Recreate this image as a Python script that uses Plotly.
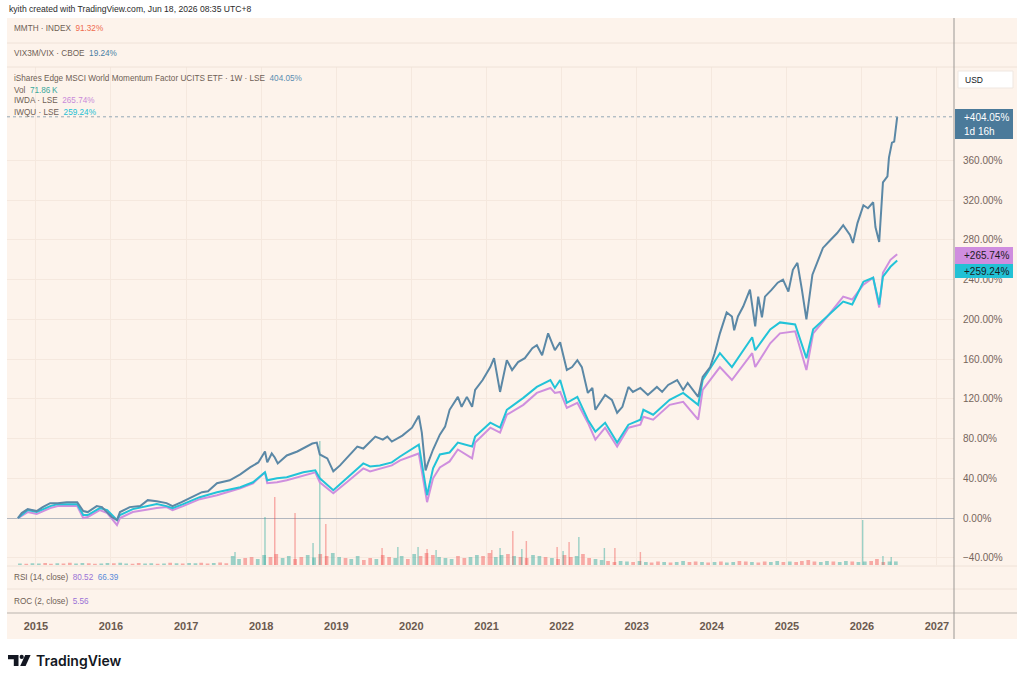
import math
from datetime import datetime, timedelta
import plotly.graph_objects as go

W, H = 1024, 682

# ---------------- data (decimal year, % change) ----------------
mmtm = [(2014.76, 0), (2014.81, 5), (2014.89, 9), (2015.01, 7), (2015.09, 11), (2015.19, 15),
        (2015.29, 15), (2015.41, 16), (2015.55, 16), (2015.63, 7), (2015.69, 6), (2015.81, 12),
        (2015.88, 11), (2016.01, 1), (2016.08, -2), (2016.12, 6), (2016.25, 11), (2016.39, 12),
        (2016.49, 18), (2016.61, 17), (2016.74, 15), (2016.82, 12), (2016.94, 16), (2017.08, 21),
        (2017.21, 26), (2017.29, 27), (2017.41, 35), (2017.58, 38), (2017.72, 44), (2017.85, 51),
        (2017.96, 56), (2018.05, 67), (2018.08, 56), (2018.14, 65), (2018.18, 61), (2018.22, 55),
        (2018.34, 63), (2018.48, 67), (2018.56, 70), (2018.68, 75), (2018.74, 76), (2018.78, 64),
        (2018.88, 60), (2018.96, 47), (2019.05, 53), (2019.16, 62), (2019.28, 72), (2019.36, 70),
        (2019.52, 82), (2019.62, 79), (2019.68, 82), (2019.74, 77), (2019.88, 83), (2020.01, 91),
        (2020.10, 103), (2020.14, 86), (2020.19, 48), (2020.22, 55), (2020.29, 69), (2020.38, 84),
        (2020.45, 92), (2020.51, 109), (2020.62, 122), (2020.67, 112), (2020.74, 122), (2020.81, 112),
        (2020.85, 129), (2020.95, 139), (2021.05, 152), (2021.10, 161), (2021.18, 127), (2021.27, 159),
        (2021.34, 149), (2021.42, 157), (2021.51, 161), (2021.61, 171), (2021.67, 174), (2021.74, 164),
        (2021.82, 186), (2021.91, 169), (2021.98, 177), (2022.07, 149), (2022.14, 152), (2022.21, 159),
        (2022.27, 152), (2022.35, 126), (2022.41, 131), (2022.45, 109), (2022.51, 116), (2022.58, 124),
        (2022.67, 119), (2022.74, 106), (2022.81, 112), (2022.89, 132), (2022.95, 127), (2023.05, 131),
        (2023.15, 124), (2023.27, 132), (2023.34, 127), (2023.42, 134), (2023.54, 139), (2023.62, 129),
        (2023.68, 136), (2023.75, 129), (2023.82, 122), (2023.88, 142), (2023.98, 152), (2024.04, 166),
        (2024.11, 186), (2024.20, 207), (2024.27, 203), (2024.30, 189), (2024.35, 203), (2024.42, 213),
        (2024.51, 230), (2024.58, 193), (2024.62, 223), (2024.67, 202), (2024.71, 223), (2024.80, 230),
        (2024.88, 237), (2024.95, 240), (2025.02, 228), (2025.08, 250), (2025.14, 257), (2025.20, 230),
        (2025.26, 200), (2025.34, 245), (2025.40, 257), (2025.48, 272), (2025.58, 280), (2025.67, 287),
        (2025.75, 295), (2025.84, 285), (2025.88, 277), (2025.94, 297), (2026.02, 315), (2026.08, 312),
        (2026.15, 318), (2026.18, 293), (2026.23, 278), (2026.28, 338), (2026.34, 344), (2026.36, 363),
        (2026.40, 378), (2026.43, 379), (2026.47, 404.05)]

iwqu = [(2014.76, 0), (2014.89, 8), (2015.01, 6), (2015.19, 12), (2015.29, 14), (2015.41, 14),
        (2015.55, 14), (2015.63, 3), (2015.69, 3), (2015.85, 10), (2015.95, 8), (2016.08, -2),
        (2016.12, 3), (2016.29, 9), (2016.52, 13), (2016.61, 14), (2016.74, 12), (2016.82, 10),
        (2016.96, 14), (2017.18, 21), (2017.41, 26), (2017.58, 29), (2017.72, 31), (2017.89, 36),
        (2018.05, 46), (2018.08, 38), (2018.21, 40), (2018.34, 41), (2018.56, 46), (2018.72, 48),
        (2018.78, 40), (2018.96, 28), (2019.14, 40), (2019.36, 55), (2019.45, 52), (2019.58, 53),
        (2019.74, 56), (2019.85, 62), (2020.10, 74), (2020.21, 23), (2020.29, 50), (2020.38, 64),
        (2020.51, 66), (2020.62, 76), (2020.81, 72), (2020.85, 82), (2021.05, 96), (2021.18, 91),
        (2021.27, 109), (2021.49, 121), (2021.67, 132), (2021.85, 139), (2021.91, 131), (2021.98, 139),
        (2022.07, 116), (2022.21, 122), (2022.35, 99), (2022.45, 87), (2022.58, 96), (2022.74, 76),
        (2022.89, 94), (2023.05, 99), (2023.09, 109), (2023.22, 104), (2023.44, 119), (2023.62, 126),
        (2023.82, 114), (2023.88, 139), (2024.11, 166), (2024.27, 152), (2024.54, 182), (2024.58, 169),
        (2024.78, 190), (2024.91, 197), (2025.11, 195), (2025.26, 161), (2025.35, 190), (2025.54, 203),
        (2025.75, 218), (2025.87, 215), (2026.02, 238), (2026.15, 242), (2026.23, 215), (2026.28, 243),
        (2026.38, 253), (2026.47, 259.24)]

iwda = [(2014.76, 0), (2014.89, 6), (2015.01, 4), (2015.19, 10), (2015.29, 12), (2015.41, 12),
        (2015.55, 12), (2015.63, 0), (2015.69, 1), (2015.85, 8), (2015.95, 5), (2016.08, -7),
        (2016.12, 0), (2016.29, 6), (2016.52, 9), (2016.61, 10), (2016.74, 11), (2016.82, 8),
        (2016.96, 12), (2017.18, 19), (2017.41, 23), (2017.58, 27), (2017.72, 30), (2017.89, 35),
        (2018.05, 46), (2018.08, 35), (2018.21, 36), (2018.34, 38), (2018.56, 43), (2018.72, 46),
        (2018.78, 36), (2018.96, 25), (2019.14, 36), (2019.36, 50), (2019.45, 47), (2019.58, 50),
        (2019.74, 53), (2019.85, 58), (2020.10, 65), (2020.21, 16), (2020.29, 40), (2020.38, 51),
        (2020.51, 57), (2020.62, 69), (2020.81, 60), (2020.85, 76), (2021.05, 91), (2021.18, 86),
        (2021.27, 104), (2021.49, 114), (2021.67, 126), (2021.85, 131), (2021.91, 126), (2021.98, 127),
        (2022.07, 111), (2022.21, 116), (2022.35, 96), (2022.45, 79), (2022.58, 91), (2022.74, 72),
        (2022.89, 91), (2023.05, 94), (2023.09, 102), (2023.22, 99), (2023.44, 114), (2023.62, 117),
        (2023.82, 99), (2023.88, 129), (2024.11, 152), (2024.27, 139), (2024.54, 166), (2024.58, 152),
        (2024.78, 176), (2024.91, 186), (2025.11, 188), (2025.26, 149), (2025.35, 186), (2025.54, 203),
        (2025.75, 223), (2025.87, 220), (2026.02, 235), (2026.15, 242), (2026.23, 212), (2026.28, 247),
        (2026.38, 260), (2026.47, 265.74)]

# monthly volume (thousands), Oct 2014 .. Jun 2026
vol_k = [30, 25, 35,
         30, 40, 25, 35, 30, 45, 30, 40, 35, 25, 30, 40,
         35, 45, 30, 25, 40, 30, 35, 25, 30, 45, 35, 30,
         40, 35, 45, 30, 40, 50, 35, 180, 120, 140, 160, 120,
         200, 160, 220, 140, 180, 120, 160, 200, 150, 220, 180, 240,
         160, 140, 120, 180, 100, 140, 120, 200, 160, 140, 180, 120,
         220, 180, 240, 200, 160, 140, 120, 180, 140, 160, 200, 180,
         240, 160, 200, 220, 180, 160, 140, 200, 180, 160, 140, 120,
         200, 160, 180, 220, 140, 120, 100, 80, 60, 80, 70, 60,
         80, 60, 50, 70, 60, 50, 60, 80, 60, 70, 60, 50,
         60, 70, 50, 60, 80, 70, 60, 50, 70, 60, 80, 60,
         70, 60, 80, 100, 70, 60, 80, 70, 60, 80, 70, 60,
         70, 80, 120, 60, 70, 71.86]
vol_dir = ("udu" "uddudduudduu" "duudduududud" "uuddudduuddu" "udduudduuddu" "uduuddudduud"
           "uddduuudduud" "duududduudud" "ddudduudduud" "uudduduuddud" "uduuddudduud"
           "udddduuduudu" "uddduu")
# notable volume spikes (decimal year, thousands, direction)
vol_spikes = [(2017.65, 260, "u"), (2018.05, 960, "u"), (2018.18, 1360, "d"), (2018.45, 1040, "d"),
              (2018.69, 440, "u"), (2018.78, 2480, "u"), (2018.86, 820, "d"), (2019.61, 340, "d"),
              (2019.82, 360, "u"), (2020.09, 360, "u"), (2020.21, 320, "d"), (2020.33, 300, "u"),
              (2021.07, 300, "d"), (2021.18, 340, "u"), (2021.35, 680, "d"), (2021.47, 320, "u"),
              (2021.53, 480, "d"), (2021.94, 360, "d"), (2022.02, 280, "u"), (2022.10, 460, "d"),
              (2022.23, 560, "u"), (2022.57, 340, "u"), (2022.71, 340, "d"), (2023.05, 260, "d"),
              (2026.01, 900, "u"), (2026.28, 180, "u"), (2026.39, 160, "u")]

legend_other = {"MMTH · INDEX": "91.32%", "VIX3M/VIX · CBOE": "19.24%"}
rsi_vals = ("80.52", "66.39")
roc_val = "5.56"
y_ticks = list(range(-40, 361, 40))

# ---------------- helpers ----------------
def dy(t):
    y = int(math.floor(t))
    return datetime(y, 1, 1) + timedelta(days=(t - y) * 365.25)

def px(x):
    return x / W

def py(y):
    return 1 - y / H

C_MMTM = "#5b88a6"
C_IWDA = "#cf8fde"
C_IWQU = "#22c3d8"
C_UP = "rgba(38,166,154,0.45)"
C_DN = "rgba(239,83,80,0.45)"
BG = "#fdf3eb"
GRID = "#f5e8de"
TXT = "#6f5f55"
FONT = "Liberation Sans"

fig = go.Figure()

# volume (base axis, drawn underneath)
vdates = [datetime(2014 + (9 + i) // 12, (9 + i) % 12 + 1, 15) for i in range(len(vol_k))]
fig.add_trace(go.Bar(x=vdates, y=vol_k, width=18 * 86400000,
                     marker=dict(color=[C_UP if d == "u" else C_DN for d in vol_dir], line=dict(width=0)),
                     xaxis="x", yaxis="y", hoverinfo="skip"))
fig.add_trace(go.Bar(x=[dy(s[0]) for s in vol_spikes], y=[s[1] for s in vol_spikes], width=7 * 86400000,
                     marker=dict(color=[C_UP if s[2] == "u" else C_DN for s in vol_spikes], line=dict(width=0)),
                     xaxis="x", yaxis="y", hoverinfo="skip"))

for series, col in ((iwda, C_IWDA), (iwqu, C_IWQU), (mmtm, C_MMTM)):
    fig.add_trace(go.Scatter(x=[dy(p[0]) for p in series], y=[p[1] for p in series], mode="lines",
                             line=dict(color=col, width=2), xaxis="x", yaxis="y2", hoverinfo="skip"))

fig.update_layout(barmode="overlay")

shapes = []
# chart background
shapes.append(dict(type="rect", xref="paper", yref="paper", x0=px(7), x1=px(1017), y0=py(639), y1=py(18),
                   fillcolor=BG, line=dict(width=0), layer="below"))
# pane separators
for yy in (43, 67, 566, 589):
    shapes.append(dict(type="line", xref="paper", yref="paper", x0=px(7), x1=px(1017), y0=py(yy), y1=py(yy),
                       line=dict(color="#efe2d8", width=1), layer="above"))
shapes.append(dict(type="line", xref="paper", yref="paper", x0=px(7), x1=px(1017), y0=py(613), y1=py(613),
                   line=dict(color="#b9b3ae", width=1.2), layer="above"))
shapes.append(dict(type="line", xref="paper", yref="paper", x0=px(954), x1=px(954), y0=py(639), y1=py(18),
                   line=dict(color="#9a9794", width=1), layer="above"))
# last-price dotted line
shapes.append(dict(type="line", xref="paper", yref="y2", x0=px(7), x1=px(954), y0=mmtm[-1][1], y1=mmtm[-1][1],
                   line=dict(color="#93a7b6", width=1, dash="dot"), layer="above"))
# price badges
shapes.append(dict(type="rect", xref="paper", yref="paper", x0=px(958), x1=px(1013), y0=py(88), y1=py(71),
                   fillcolor="white", line=dict(color="#efe7e1", width=1), layer="above"))
shapes.append(dict(type="rect", xref="paper", yref="paper", x0=px(955), x1=px(1013), y0=py(139), y1=py(109),
                   fillcolor="#4b7a9a", line=dict(width=0), layer="above"))
shapes.append(dict(type="rect", xref="paper", yref="paper", x0=px(955), x1=px(1013), y0=py(264), y1=py(247),
                   fillcolor="#cf8ddf", line=dict(width=0), layer="above"))
shapes.append(dict(type="rect", xref="paper", yref="paper", x0=px(955), x1=px(1013), y0=py(278), y1=py(264),
                   fillcolor="#22c1d5", line=dict(width=0), layer="above"))
# TradingView logo icon
def path(pts):
    return "M" + " L".join(f"{px(a):.5f},{py(b):.5f}" for a, b in pts) + " Z"
shapes.append(dict(type="path", xref="paper", yref="paper",
                   path=path([(8, 655), (18.5, 655), (18.5, 666), (13.8, 666), (13.8, 659.2), (8, 659.2)]),
                   fillcolor="#131722", line=dict(width=0), layer="above"))
shapes.append(dict(type="circle", xref="paper", yref="paper", x0=px(19.6), x1=px(23.8), y0=py(659), y1=py(654.8),
                   fillcolor="#131722", line=dict(width=0), layer="above"))
shapes.append(dict(type="path", xref="paper", yref="paper",
                   path=path([(25.2, 655), (30.6, 655), (25.6, 666), (20.2, 666)]),
                   fillcolor="#131722", line=dict(width=0), layer="above"))

ann = []
def text(x, y, s, size=8.2, color=TXT, family=FONT, weight="normal"):
    ann.append(dict(xref="paper", yref="paper", x=px(x), y=py(y), text=s, showarrow=False,
                    xanchor="left", yanchor="middle", align="left",
                    font=dict(family=family, size=size, color=color, weight=weight)))

sp = "\u00a0\u00a0"
text(7, 9, "kyith created with TradingView.com, Jun 18, 2026 08:35 UTC+8", size=8.6, color="#2a2a2a")
k = list(legend_other.keys())
text(12, 29, f"{k[0]}{sp}<span style='color:#ef6b4e'>{legend_other[k[0]]}</span>")
text(12, 53, f"{k[1]}{sp}<span style='color:#4a7ea3'>{legend_other[k[1]]}</span>")
text(12, 78, f"iShares Edge MSCI World Momentum Factor UCITS ETF · 1W · LSE{sp}"
             f"<span style='color:#5a8db2'>{mmtm[-1][1]:.2f}%</span>")
text(12, 90, f"Vol{sp}<span style='color:#3aa79b'>{vol_k[-1]:.2f}\u2009K</span>")
text(12, 101, f"IWDA · LSE{sp}<span style='color:#c98ad9'>{iwda[-1][1]:.2f}%</span>")
text(12, 113, f"IWQU · LSE{sp}<span style='color:#22bfd3'>{iwqu[-1][1]:.2f}%</span>")
text(12, 577, f"RSI (14, close){sp}<span style='color:#9a72d6'>{rsi_vals[0]}</span>{sp}"
              f"<span style='color:#5b8bd9'>{rsi_vals[1]}</span>")
text(12, 601, f"ROC (2, close){sp}<span style='color:#9a72d6'>{roc_val}</span>")
# badges text
text(962, 117.5, f"+{mmtm[-1][1]:.2f}%", size=10, color="white")
text(962, 131, "1d 16h", size=10, color="white")
text(962, 255.5, f"+{iwda[-1][1]:.2f}%", size=10, color="#1c1c1c")
text(962, 271, f"+{iwqu[-1][1]:.2f}%", size=10, color="#1c1c1c")
text(963, 79.5, "USD", size=8.5, color="#131722")
text(34, 660.5, "TradingView", size=14, color="#131722", family="Inter", weight=600)

fig.update_layout(
    width=W, height=H, margin=dict(l=0, r=0, t=0, b=0),
    paper_bgcolor="white", plot_bgcolor="rgba(0,0,0,0)", showlegend=False,
    shapes=shapes, annotations=ann,
    xaxis=dict(type="date", domain=[px(7), px(954)], range=[dy(2014.614), dy(2027.227)],
               anchor="free", position=py(613), tickformat="%Y", dtick="M12", tick0="2015-01-01",
               showgrid=True, gridcolor=GRID, gridwidth=1, ticks="", ticklabelstandoff=5,
               showline=False, zeroline=False,
               tickfont=dict(family=FONT, size=11, color="#6b5a4f", weight="bold")),
    yaxis=dict(domain=[py(565), py(67)], range=[0, 9960], visible=False, fixedrange=True),
    yaxis2=dict(overlaying="y", side="right", anchor="x", range=[-47.3, 454.2],
                tickvals=y_ticks, ticktext=[f"{v:.2f}%".replace("-", "\u2212") for v in y_ticks],
                showgrid=True, gridcolor=GRID, gridwidth=1,
                zeroline=True, zerolinecolor="#b3b7bf", zerolinewidth=1,
                ticks="", ticklabelstandoff=8, showline=False,
                tickfont=dict(family=FONT, size=10, color="#76655b")),
)

fig.write_html("out.html")
